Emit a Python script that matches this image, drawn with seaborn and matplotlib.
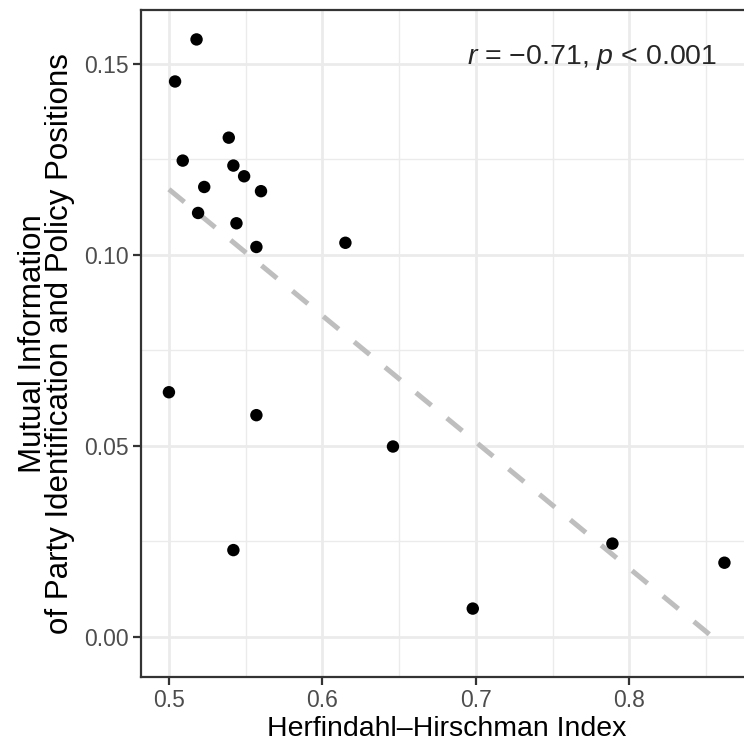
import numpy as np
import pandas as pd
import matplotlib
matplotlib.use("Agg")
import matplotlib.pyplot as plt
import seaborn as sns
from matplotlib.ticker import MultipleLocator

# values
hhi = [0.518, 0.504, 0.539, 0.509, 0.542, 0.549, 0.523, 0.560, 0.519, 0.544,
       0.557, 0.615, 0.500, 0.557, 0.646, 0.542, 0.789, 0.698, 0.862]
mutual_info = [0.1563, 0.1453, 0.1306, 0.1246, 0.1233, 0.1205, 0.1177, 0.1166, 0.1109, 0.1082,
               0.1020, 0.1031, 0.0640, 0.0580, 0.0498, 0.0227, 0.0244, 0.0074, 0.0194]

x_ticks = [0.5, 0.6, 0.7, 0.8]
y_ticks = [0.00, 0.05, 0.10, 0.15]
annot = r"$\it{r}$ = $-$0.71, $\it{p}$ < 0.001"

df = pd.DataFrame({"hhi": hhi, "mi": mutual_info})

sns.set_theme(style="white")
plt.rcParams["font.family"] = ["Liberation Sans", "DejaVu Sans"]
plt.rcParams["mathtext.fontset"] = "custom"
plt.rcParams["mathtext.rm"] = "Liberation Sans"
plt.rcParams["mathtext.it"] = "Liberation Sans:italic"

fig = plt.figure(figsize=(7.44, 7.49), dpi=100)
ax = fig.add_axes([141 / 744, 1 - 677 / 749, 1 - 141 / 744 + 0.01, (677 - 10) / 749])

sns.regplot(data=df, x="hhi", y="mi", ax=ax, scatter=False, ci=None,
            line_kws=dict(color="#BEBEBE", lw=3.6, ls=(0, (4, 4)), zorder=2))
sns.scatterplot(data=df, x="hhi", y="mi", ax=ax, color="black", s=80,
                edgecolor="none", zorder=3)

ax.set_xlim(0.4818, 0.8796)
ax.set_ylim(-0.0105, 0.1640)
ax.set_xticks(x_ticks)
ax.set_yticks(y_ticks)
ax.set_xticklabels([f"{v:.1f}" for v in x_ticks])
ax.set_yticklabels([f"{v:.2f}" for v in y_ticks])
ax.xaxis.set_minor_locator(MultipleLocator(0.05))
ax.yaxis.set_minor_locator(MultipleLocator(0.025))

ax.grid(True, which="major", color="#EBEBEB", lw=2.0)
ax.grid(True, which="minor", color="#EBEBEB", lw=1.0)
ax.set_axisbelow(True)
for side in ax.spines.values():
    side.set_color("#333333")
    side.set_linewidth(1.6)

ax.tick_params(which="major", length=5.5, width=1.6, color="#333333",
               labelsize=16.5, labelcolor="#4D4D4D", pad=3, bottom=True, left=True)
ax.tick_params(which="minor", length=0)

ax.set_xlabel("Herfindahl\u2013Hirschman Index", fontsize=20.5, color="black", labelpad=3)
ax.set_ylabel("Mutual Information\nof Party Identification and Policy Positions",
              fontsize=22.5, color="black", labelpad=7, linespacing=0.85)

ax.text(0.857, 0.1500, annot, fontsize=20.5, ha="right", va="baseline")

fig.savefig("out.png", dpi=100)
